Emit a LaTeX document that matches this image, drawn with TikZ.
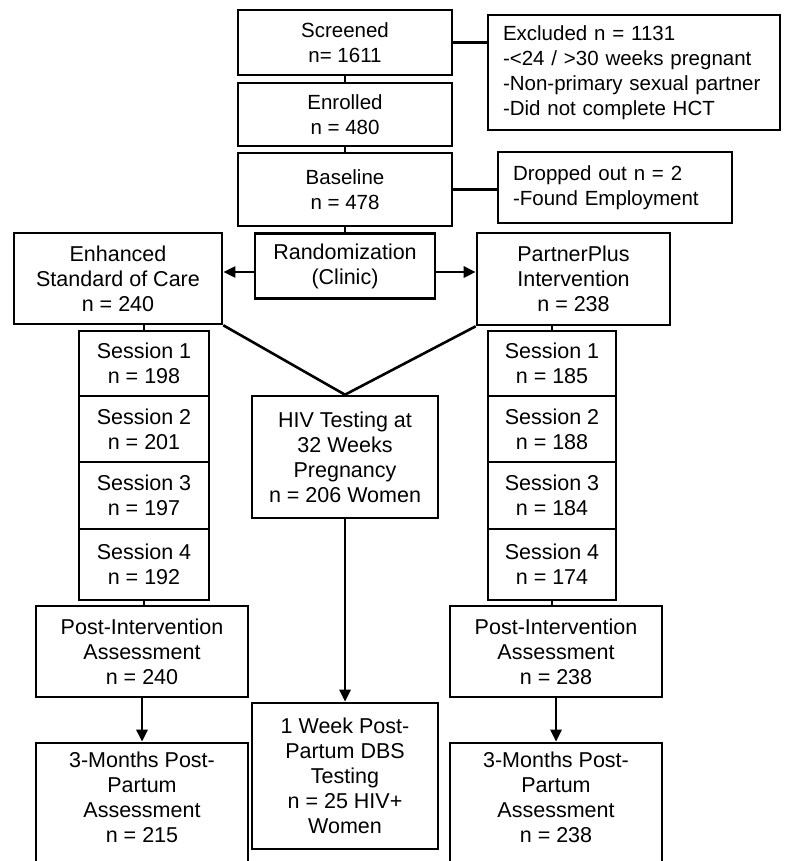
\documentclass[tikz,border=0pt]{standalone}
\usepackage{fontspec}
\setmainfont{Liberation Sans}
\usetikzlibrary{arrows.meta,positioning}

\begin{document}
\begin{tikzpicture}[x=1pt, y=-1pt,
  box/.style={draw, line width=2.6pt, align=center, inner sep=0pt, font=\fontsize{21.5}{25}\selectfont},
  topbox/.style={box, font=\fontsize{20.5}{25}\selectfont},
  lbox/.style={draw, line width=2.6pt, align=left, inner ysep=0pt, inner xsep=15pt, font=\fontsize{20.5}{25}\selectfont},
  link/.style={line width=2.6pt},
  arr/.style={line width=2.6pt, -{Triangle[length=12pt,width=11pt]}}]
  \useasboundingbox (0,0) rectangle (786,861);
  \clip (0,0) rectangle (786,861);
  % top column
  \node[topbox, minimum width=214pt, minimum height=65pt] (scr) at (345,42.5) {Screened\\n= 1611};
  \node[lbox, text width=262pt, minimum height=115pt] (excl) at (634,72.5) {Excluded n = 1131\\-<24 / >30 weeks pregnant\\-Non-primary sexual partner\\-Did not complete HCT};
  \node[topbox, minimum width=214pt, minimum height=63pt] (enr) at (345,114.5) {Enrolled\\n = 480};
  \node[topbox, minimum width=214pt, minimum height=73pt] (base) at (345,189.5) {Baseline\\n = 478};
  \node[lbox, text width=204pt, minimum height=71pt] (drop) at (615,187.5) {Dropped out n = 2\\-Found Employment};
  \node[box, minimum width=180pt, minimum height=65pt] (rand) at (345,266) {Randomization\\(Clinic)};
  % arms
  \node[box, minimum width=208pt, minimum height=91pt] (esc) at (118,278.5) {Enhanced\\Standard of Care\\n = 240};
  \node[box, minimum width=193pt, minimum height=92pt] (pp) at (573.5,279) {PartnerPlus\\Intervention\\n = 238};
  % sessions
  \foreach \i/\y/\h/\nl/\nr in {1/363.5/65/198/185, 2/429/66/201/188, 3/495.5/67/197/184, 4/564.5/71/192/174}{
    \node[box, minimum width=130pt, minimum height=\h pt] (sL\i) at (144,\y) {Session \i\\n = \nl};
    \node[box, minimum width=128pt, minimum height=\h pt] (sR\i) at (552,\y) {Session \i\\n = \nr};
  }
  % middle column
  \node[box, minimum width=186pt, minimum height=122pt] (hiv) at (345,457) {HIV Testing at\\32 Weeks\\Pregnancy\\n = 206 Women};
  \node[box, minimum width=186pt, minimum height=146pt] (dbs) at (345,776) {1 Week Post-\\Partum DBS\\Testing\\n = 25 HIV+\\Women};
  % assessments
  \node[box, minimum width=212pt, minimum height=91pt] (piL) at (142,651.5) {Post-Intervention\\Assessment\\n = 240};
  \node[box, minimum width=212pt, minimum height=91pt] (piR) at (556,651.5) {Post-Intervention\\Assessment\\n = 238};
  \node[box, minimum width=212pt, minimum height=140pt] (mL) at (142,813) {3-Months Post-\\Partum\\Assessment\\n = 215\\\strut};
  \node[box, minimum width=212pt, minimum height=140pt] (mR) at (556,813) {3-Months Post-\\Partum\\Assessment\\n = 238\\\strut};
  % connectors
  \draw[link] (scr.east) -- (scr.east -| excl.west);
  \draw[link] (scr) -- (enr);
  \draw[link] (enr) -- (base);
  \draw[link] (base.east) -- (base.east -| drop.west);
  \draw[link] (base) -- (rand);
  \draw[arr] ([yshift=-6pt]rand.west) -- ([yshift=-6pt]rand.west -| esc.east);
  \draw[arr] ([yshift=-6pt]rand.east) -- ([yshift=-6pt]rand.east -| pp.west);
  \draw[link] (esc.south -| sL1.north) -- (sL1.north);
  \draw[link] (pp.south -| sR1.north) -- (sR1.north);
  \draw[link] (esc.south east) -- (hiv.north);
  \draw[link] (pp.south west) -- (hiv.north);
  \draw[link] (sL4.south) -- (sL4.south |- piL.north);
  \draw[link] (sR4.south) -- (sR4.south |- piR.north);
  \draw[arr] (hiv) -- (dbs);
  \draw[arr] (piL) -- (mL);
  \draw[arr] (piR) -- (mR);
\end{tikzpicture}
\end{document}
